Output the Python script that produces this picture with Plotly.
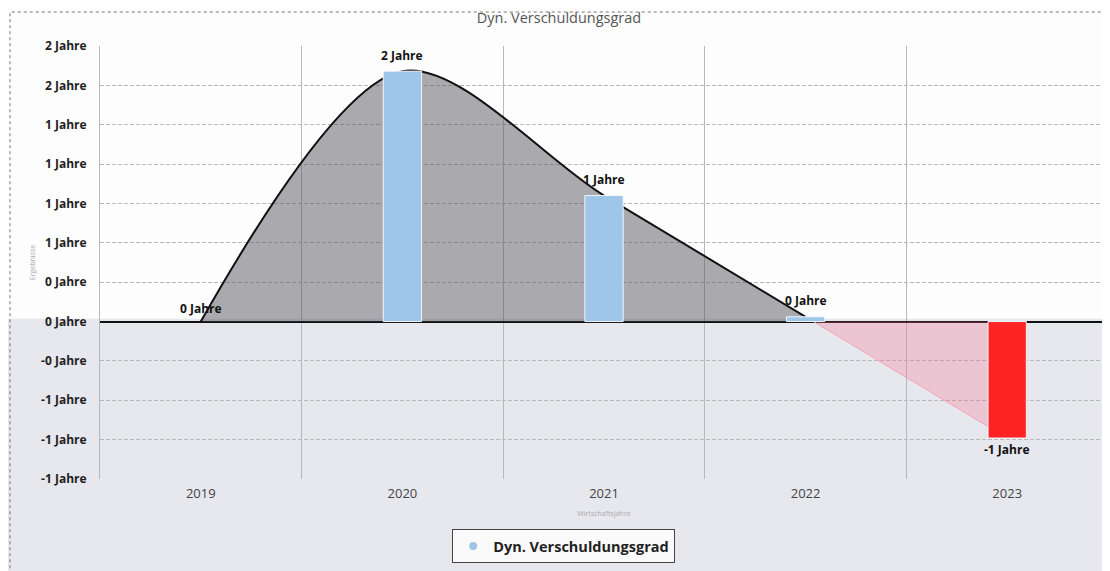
import math
import plotly.graph_objects as go

# ---- data ----
years = ["2019", "2020", "2021", "2022", "2023"]
values = [0.0, 1.59, 0.80, 0.03, -0.74]
y_ticks = [-1.0, -0.75, -0.5, -0.25, 0.0, 0.25, 0.5, 0.75, 1.0, 1.25, 1.5, 1.75]
series_name = "Dyn. Verschuldungsgrad"
chart_title = "Dyn. Verschuldungsgrad"
x_title = "Wirtschaftsjahre"
y_title = "Ergebnisse"


def fmt(v):
    n = int(math.floor(abs(v) + 0.5))
    sign = "-" if v < 0 else ""
    return f"{sign}{n} Jahre"


tick_text = [fmt(v) for v in y_ticks]
labels = [fmt(v) for v in values]

# split the area into the positive (grey) and negative (pink) parts
k = next((i for i, v in enumerate(values) if v < 0), len(values))
pos_x, pos_y = years[:k], values[:k]
neg_x, neg_y = years[k - 1:], values[k - 1:]

FONT = "Open Sans, DejaVu Sans, sans-serif"
Y_RANGE = [-1.0, 1.75]
X_RANGE = [-0.5, 4.5]

fig = go.Figure()

# area (base axes)
fig.add_trace(go.Scatter(
    x=pos_x, y=pos_y, mode="lines", line=dict(color="#111111", width=2, shape="spline", smoothing=0.9),
    fill="tozeroy", fillcolor="rgba(85,85,95,0.5)", showlegend=False, hoverinfo="skip"))

fig.add_trace(go.Scatter(
    x=neg_x, y=neg_y, mode="lines", line=dict(color="#f3a3b3", width=1),
    fill="tozeroy", fillcolor="rgba(250,110,140,0.28)", showlegend=False, hoverinfo="skip"))

# bars (overlay axes, drawn above the area)
bar_colors = ["#9fc5e8" if v >= 0 else "#ff2424" for v in values]
bar_line_w = [1 if v != 0 else 0 for v in values]
fig.add_trace(go.Bar(
    x=years, y=values, width=0.19, xaxis="x2", yaxis="y2",
    marker=dict(color=bar_colors, line=dict(color="#f4f7fb", width=bar_line_w)),
    showlegend=False, hoverinfo="skip"))

# legend entry
fig.add_trace(go.Scatter(
    x=[years[0]], y=[None], mode="markers", name=series_name, xaxis="x2", yaxis="y2",
    marker=dict(color="#9fc5e8", size=8, symbol="circle")))

# data labels (category axis -> use category index as position)
annotations = []
for i, (v, t) in enumerate(zip(values, labels)):
    annotations.append(dict(
        x=i, y=v, xref="x", yref="y", text=t, showarrow=False,
        yanchor="middle", yshift=(16 if v > 0 else 13) if v >= 0 else -11,
        font=dict(family=FONT, size=12, color="#111111", weight="bold")))

fig.update_layout(
    width=1102, height=563,
    margin=dict(l=92, r=2, t=38, b=92),
    paper_bgcolor="#fdfdfd", plot_bgcolor="rgba(0,0,0,0)",
    title=dict(text=chart_title, x=0.5, xref="container", y=0.982, yref="container",
               xanchor="center", yanchor="middle",
               font=dict(family=FONT, size=14.5, color="#555555")),
    showlegend=True,
    legend=dict(orientation="h", x=0.46, xanchor="center", y=-0.1155, yanchor="top",
                bgcolor="#fafafa", bordercolor="#444444", borderwidth=1,
                font=dict(family=FONT, size=14.5, color="#222222", weight="bold")),
    barmode="overlay",
    annotations=annotations,
    shapes=[
        dict(type="rect", xref="paper", yref="paper", x0=-0.2, x1=1.1, y0=-0.3, y1=0.37,
             fillcolor="#e7e7ee", line=dict(width=0), layer="below"),
        dict(type="rect", xref="paper", yref="paper", x0=-0.0893, x1=1.01, y0=-0.23, y1=1.0785,
             fillcolor="rgba(0,0,0,0)", line=dict(color="#777777", width=1, dash="dot"), layer="above"),
    ],
    xaxis=dict(
        type="category", categoryorder="array", categoryarray=years, range=X_RANGE,
        tickson="boundaries", showgrid=True, gridcolor="#b8b8b8", gridwidth=1,
        showline=False, zeroline=False, ticks="", ticklabelstandoff=5, automargin=False,
        tickfont=dict(family=FONT, size=13, color="#444444"),
        title=dict(text=x_title, font=dict(family=FONT, size=7, color="#aaaaaa"), standoff=10),
    ),
    yaxis=dict(
        range=Y_RANGE, tickmode="array", tickvals=y_ticks, ticktext=tick_text,
        showgrid=True, gridcolor="#b8b8b8", gridwidth=1, griddash="4px,2px",
        zeroline=True, zerolinecolor="#111111", zerolinewidth=2,
        showline=True, linecolor="#b8b8b8", linewidth=1,
        ticks="", ticklabelstandoff=10, automargin=False,
        tickfont=dict(family=FONT, size=12, color="#222222", weight="bold"),
        title=dict(text=y_title, font=dict(family=FONT, size=7, color="#aaaaaa"), standoff=4),
    ),
    xaxis2=dict(
        type="category", categoryorder="array", categoryarray=years, range=X_RANGE,
        overlaying="x", visible=False, automargin=False,
    ),
    yaxis2=dict(
        range=Y_RANGE, overlaying="y", visible=False, automargin=False,
    ),
)

fig.write_html("out.html")
